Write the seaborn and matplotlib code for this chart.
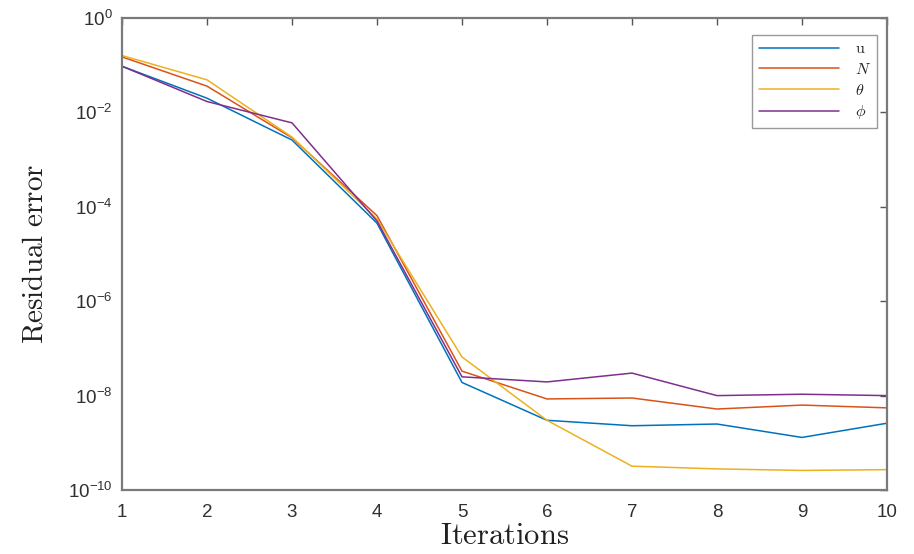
import numpy as np
import pandas as pd
import matplotlib
matplotlib.use("Agg")
import matplotlib.pyplot as plt
import seaborn as sns

# 数据
iterations = [1, 2, 3, 4, 5, 6, 7, 8, 9, 10]
err_u = [9.5e-2, 2.0e-2, 2.6e-3, 4.5e-5, 1.9e-8, 3.0e-9, 2.3e-9, 2.5e-9, 1.3e-9, 2.6e-9]
err_N = [1.5e-1, 3.6e-2, 2.9e-3, 6.5e-5, 3.3e-8, 8.5e-9, 8.9e-9, 5.2e-9, 6.3e-9, 5.5e-9]
err_theta = [1.6e-1, 4.9e-2, 3.0e-3, 5.5e-5, 6.6e-8, 3.0e-9, 3.2e-10, 2.8e-10, 2.6e-10, 2.7e-10]
err_phi = [9.5e-2, 1.7e-2, 6.0e-3, 5.0e-5, 2.5e-8, 1.95e-8, 3.0e-8, 1.0e-8, 1.07e-8, 1.0e-8]
labels = [r"$\mathrm{u}$", r"$N$", r"$\theta$", r"$\phi$"]
colors = ["#0072BD", "#D95319", "#EDB120", "#7E2F8E"]

df = pd.DataFrame({
    "Iteration": iterations * 4,
    "Error": err_u + err_N + err_theta + err_phi,
    "Variable": sum([[lab] * len(iterations) for lab in labels], []),
})

sns.set_theme(style="white")
plt.rcParams["font.family"] = ["Liberation Sans", "DejaVu Sans"]
plt.rcParams["mathtext.fontset"] = "cm"

fig = plt.figure(figsize=(9.14, 5.54), dpi=100)
ax = fig.add_axes([0.1335, 0.1155, 0.8369, 0.852])

sns.lineplot(data=df, x="Iteration", y="Error", hue="Variable", hue_order=labels,
             palette=colors, linewidth=1.1, ax=ax)

ax.set_yscale("log")
ax.set_xlim(1, 10)
ax.set_ylim(1e-10, 1)
ax.set_xticks(iterations)
ax.set_yticks([1e-10, 1e-8, 1e-6, 1e-4, 1e-2, 1])
ax.yaxis.set_minor_locator(matplotlib.ticker.NullLocator())
ax.tick_params(direction="in", length=5, width=1, colors="#555555", labelcolor="#303030",
               labelsize=13.5, top=True, right=True)
ax.tick_params(axis="x", pad=10)
ax.tick_params(axis="y", pad=7)

for sp in ax.spines.values():
    sp.set_color("#7a7a7a")
    sp.set_linewidth(1.6)

ax.set_xlabel(r"$\mathrm{Iterations}$", fontsize=22, color="#202020", labelpad=0)
ax.set_ylabel(r"$\mathrm{Residual\ error}$", fontsize=21, color="#202020", labelpad=14)

leg = ax.legend(loc="upper right", bbox_to_anchor=(877 / 914, 1 - 35 / 554),
                bbox_transform=fig.transFigure, borderaxespad=0,
                fontsize=11.5, handlelength=5.0, fancybox=False,
                frameon=True, labelspacing=0.35, handletextpad=1.0)
leg.get_frame().set_edgecolor("#808080")
leg.get_frame().set_linewidth(1.0)

fig.savefig("out.png", dpi=100)
